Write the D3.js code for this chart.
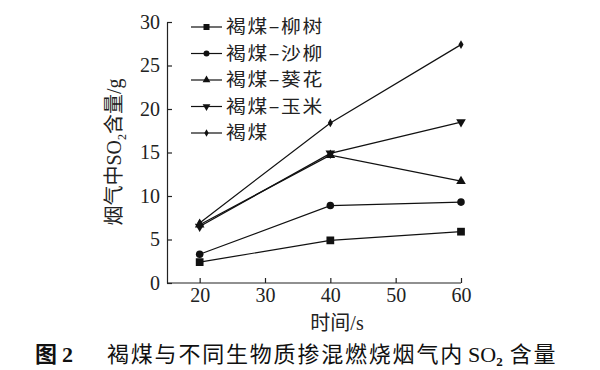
<!DOCTYPE html>
<html>
<head>
<meta charset="utf-8">
<script src="https://cdn.jsdelivr.net/npm/d3@7"></script>
<style>
  body { margin: 0; background: #fff; }
  svg { display: block; }
</style>
</head>
<body>
<div class="container"></div>
<script>
// data
var times = [20, 40, 60];
var seriesNames = ["褐煤–柳树", "褐煤–沙柳", "褐煤–葵花", "褐煤–玉米", "褐煤"];
var liushu = [2.4, 4.9, 5.9];
var shaliu = [3.3, 8.9, 9.3];
var kuihua = [6.7, 14.7, 11.7];
var yumi = [6.5, 14.9, 18.5];
var hemei = [6.9, 18.4, 27.4];
var xTicks = [20, 30, 40, 50, 60];
var yTicks = [0, 5, 10, 15, 20, 25, 30];

var svgWidth = 600;
var svgHeight = 370;
var margin = { top: 22, left: 167, right: 139, bottom: 87 };
var chartWidth = svgWidth - margin.left - margin.right;
var chartHeight = svgHeight - margin.top - margin.bottom;

var svg = d3.select(".container")
    .append("svg")
    .attr("width", svgWidth)
    .attr("height", svgHeight);

var chartGroup = svg.append("g")
    .attr("transform", `translate(${margin.left}, ${margin.top})`);

var xScale = d3.scaleLinear().domain([15, 60]).range([0, chartWidth]);
var yScale = d3.scaleLinear().domain([0, 30]).range([chartHeight, 0]);

var numFont = "'Liberation Serif', 'Times New Roman', serif";
var cjkFont = "'Noto Sans CJK SC', sans-serif";

// axes with inward ticks
var bottomAxis = d3.axisBottom(xScale).tickValues(xTicks).tickSizeInner(-5).tickSizeOuter(0).tickPadding(5);
var leftAxis = d3.axisLeft(yScale).tickValues(yTicks).tickSizeInner(-5).tickSizeOuter(0).tickPadding(7);

var gx = chartGroup.append("g")
    .attr("transform", `translate(0, ${chartHeight})`)
    .call(bottomAxis);
var gy = chartGroup.append("g").call(leftAxis);

[gx, gy].forEach(g => {
    g.selectAll("path, line").attr("stroke", "#222").attr("stroke-width", 1.2);
    g.selectAll("text")
        .attr("font-family", numFont)
        .attr("font-size", "20px")
        .attr("fill", "#222");
});
gx.select(".domain").attr("d", `M0,0H${chartWidth}`);

// markers
var shapes = [d3.symbolSquare, d3.symbolCircle, d3.symbolTriangle, d3.symbolTriangle, d3.symbolDiamond];
var sizes = [60, 45, 40, 40, 22];
var rotations = [0, 0, 0, 180, 0];
var legendSizes = [36, 28, 26, 26, 16];

var allSeries = [liushu, shaliu, kuihua, yumi, hemei];

var line = d3.line()
    .x((d, i) => xScale(times[i]))
    .y(d => yScale(d));

allSeries.forEach((vals, s) => {
    chartGroup.append("path")
        .attr("d", line(vals))
        .attr("fill", "none")
        .attr("stroke", "#111")
        .attr("stroke-width", 1.2);
    chartGroup.selectAll(".pt" + s)
        .data(vals)
        .enter()
        .append("path")
        .attr("d", d3.symbol().type(shapes[s]).size(sizes[s]))
        .attr("transform", (d, i) => `translate(${xScale(times[i])}, ${yScale(d)}) rotate(${rotations[s]})`)
        .attr("fill", "#111");
});

// legend
var legend = svg.append("g").attr("transform", "translate(191, 27)");
seriesNames.forEach((name, s) => {
    var row = legend.append("g").attr("transform", `translate(0, ${s * 26.5})`);
    row.append("line")
        .attr("x1", 0).attr("x2", 31)
        .attr("stroke", "#111").attr("stroke-width", 1.2);
    row.append("path")
        .attr("d", d3.symbol().type(shapes[s]).size(legendSizes[s]))
        .attr("transform", `translate(15.5, 0) rotate(${rotations[s]})`)
        .attr("fill", "#111");
    // slightly widened glyphs, like the reference's hei font
    row.append("text")
        .attr("transform", "translate(35, 0) scale(1.1, 1)")
        .attr("dy", "0.36em")
        .attr("font-family", cjkFont)
        .attr("font-size", "18px")
        .attr("letter-spacing", "1.5px")
        .attr("fill", "#222")
        .text(name);
});

// y axis title
var yTitle = svg.append("text")
    .attr("transform", "translate(121, 152) rotate(-90)")
    .attr("text-anchor", "middle")
    .attr("font-size", "20px")
    .attr("fill", "#222");
yTitle.append("tspan").attr("font-family", cjkFont).text("烟气中");
yTitle.append("tspan").attr("font-family", numFont).text("SO");
yTitle.append("tspan").attr("font-family", numFont).attr("font-size", "12px").attr("dy", 5).text("2");
yTitle.append("tspan").attr("font-family", cjkFont).attr("dy", -5).text("含量");
yTitle.append("tspan").attr("font-family", numFont).text("/g");

// x axis title
var xTitle = svg.append("text")
    .attr("x", 337)
    .attr("y", 330)
    .attr("text-anchor", "middle")
    .attr("font-size", "20px")
    .attr("fill", "#222");
xTitle.append("tspan").attr("font-family", cjkFont).text("时间");
xTitle.append("tspan").attr("font-family", numFont).text("/s");

// caption
var caption = svg.append("text")
    .attr("x", 35)
    .attr("y", 362)
    .attr("font-size", "22px")
    .attr("fill", "#111");
caption.append("tspan").attr("font-family", cjkFont).attr("font-weight", "bold").text("图");
caption.append("tspan").attr("font-family", numFont).attr("font-weight", "bold").attr("dx", 5).text("2");
caption.append("tspan").attr("x", 107).attr("font-family", cjkFont).attr("letter-spacing", "1.8px").text("褐煤与不同生物质掺混燃烧烟气内");
caption.append("tspan").attr("dx", 4).attr("font-family", numFont).text("SO");
caption.append("tspan").attr("font-family", numFont).attr("font-weight", "bold").attr("font-size", "13px").attr("dy", 4).text("2");
caption.append("tspan").attr("font-family", cjkFont).attr("dy", -4).attr("dx", 7).attr("letter-spacing", "1.8px").text("含量");
</script>
</body>
</html>
